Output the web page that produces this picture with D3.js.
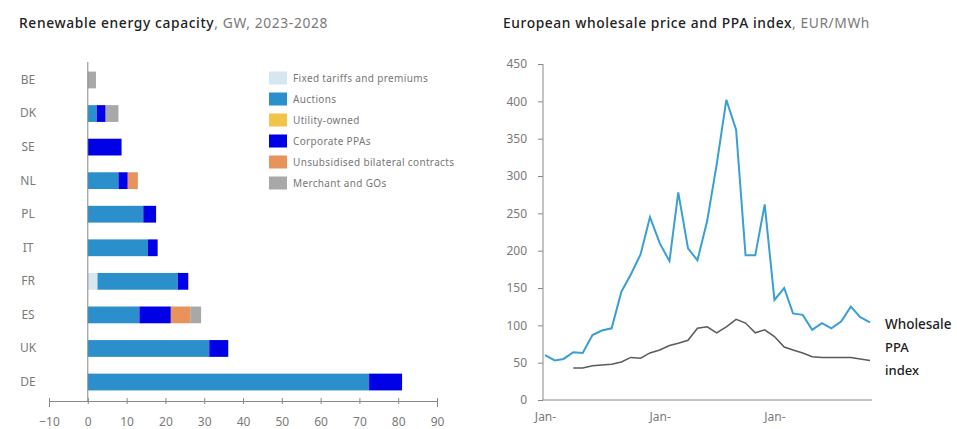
<!DOCTYPE html>
<html><head><meta charset="utf-8">
<script src="https://cdn.jsdelivr.net/npm/d3@7"></script>
<style>
html,body{margin:0;padding:0;background:#fff;}
svg{display:block;font-family:"Noto Sans",sans-serif;}
</style></head>
<body><svg id="c" width="957" height="429"></svg>
<script>
// ---- Left chart data: Renewable energy capacity, GW, 2023-2028
const countries = ["BE","DK","SE","NL","PL","IT","FR","ES","UK","DE"];
const seriesNames = ["Fixed tariffs and premiums","Auctions","Utility-owned","Corporate PPAs","Unsubsidised bilateral contracts","Merchant and GOs"];
const fixedTariffs   = [0,   0,   0,   0,   0,   0,   2.5, 0,    0,    0];
const auctions       = [0,   2.3, 0,   7.9, 14.3,15.5,20.7,13.3, 31.3, 72.5];
const utilityOwned   = [0,   0,   0,   0,   0,   0,   0,   0,    0,    0];
const corporatePPAs  = [0,   2.3, 8.7, 2.4, 3.3, 2.5, 2.7, 8.1,  4.9,  8.5];
const unsubsidised   = [0,   0,   0,   2.6, 0,   0,   0,   5.0,  0,    0];
const merchantGOs    = [2.1, 3.3, 0,   0,   0,   0,   0,   2.8,  0,    0];
const xTicksLeft = [-10,0,10,20,30,40,50,60,70,80,90];

// ---- Right chart data: European wholesale price and PPA index, EUR/MWh (monthly, Jan-21 .. Nov-23)
const wholesale = [60,53,55,64,63,87,93,96,145,168,195,245,210,186,278,203,187,240,315,402,362,194,194,262,134,150,116,114,94,103,96,105,125,111,104];
const ppaIndex  = [null,null,null,43,43,46,47,48,51,57,56,63,67,73,76,80,96,98,90,98,108,103,90,94,85,71,67,63,58,57,57,57,57,55,53];
const yTicksRight = [0,50,100,150,200,250,300,350,400,450];
const xTickLabelsRight = ["Jan-","Jan-","Jan-"];

const colors = ["#d6e7ef","#2b8fcb","#f2c447","#0000e6","#e8935c","#a8a8a8"];
const svg = d3.select("#c");
const gray = "#7a7a7a";

function fitWidth(sel, target){
  const n = sel.text().length;
  const w = sel.node().getComputedTextLength();
  sel.attr("letter-spacing", ((target - w) / n).toFixed(3));
}

// ===== Left chart =====
const xL = d3.scaleLinear().domain([-10,90]).range([49,437]);
const yL = d3.scaleBand().domain(countries).range([63.2,398.8]).paddingInner(0.5).paddingOuter(0.25);
const table = countries.map((c,i)=>({country:c,
  [seriesNames[0]]:fixedTariffs[i],[seriesNames[1]]:auctions[i],[seriesNames[2]]:utilityOwned[i],
  [seriesNames[3]]:corporatePPAs[i],[seriesNames[4]]:unsubsidised[i],[seriesNames[5]]:merchantGOs[i]}));
const stacked = d3.stack().keys(seriesNames)(table);

const t1 = svg.append("text").attr("x",19).attr("y",28).attr("font-size",13.8)
  .call(t=>{t.append("tspan").attr("fill","#222").attr("font-weight",500).text("Renewable energy capacity");
            t.append("tspan").attr("fill",gray).text(", GW, 2023-2028");});
fitWidth(t1, 309);

const gL = svg.append("g");
stacked.forEach((layer,k)=>{
  gL.append("g").attr("fill",colors[k]).selectAll("rect").data(layer).join("rect")
    .attr("x",d=>xL(d[0])).attr("width",d=>Math.max(0,xL(d[1])-xL(d[0])))
    .attr("y",d=>yL(d.data.country)).attr("height",yL.bandwidth());
});

// x axis
const axL = svg.append("g").attr("transform","translate(0,401)")
  .call(d3.axisBottom(xL).tickValues(xTicksLeft).tickSize(6).tickPadding(10).tickFormat(d3.format("d")));
axL.select(".domain").attr("stroke","#888");
axL.selectAll(".tick line").attr("y1",-3).attr("y2",3).attr("stroke","#888");
axL.selectAll(".tick text").attr("fill",gray).attr("font-size",12).attr("font-family","Noto Sans");
// y axis
const ayL = svg.append("g").attr("transform",`translate(${xL(0)},0)`)
  .call(d3.axisLeft(yL).tickSize(0));
ayL.select(".domain").attr("d",`M0,62V401`).attr("stroke","#888");
ayL.selectAll(".tick text").attr("x",28-xL(0)).attr("text-anchor","middle").attr("fill",gray)
  .attr("font-size",12).attr("font-family","Noto Sans");

// legend
const lg = svg.append("g");
seriesNames.forEach((s,i)=>{
  const cy = 78 + i*21;
  lg.append("rect").attr("x",269).attr("y",cy-6.5).attr("width",18).attr("height",13).attr("fill",colors[i]);
  lg.append("text").attr("x",293).attr("y",cy+3.5).attr("font-size",10).attr("letter-spacing",0.35)
    .attr("fill","#777").text(s);
});

// ===== Right chart =====
const months = d3.timeMonth.range(new Date(2021,0,1), new Date(2023,11,1));
const xR = d3.scaleTime().domain([months[0], months[months.length-1]]).range([545,870]);
const yR = d3.scaleLinear().domain([0,450]).range([400,64]);

const t2 = svg.append("text").attr("x",503).attr("y",28).attr("font-size",13.8)
  .call(t=>{t.append("tspan").attr("fill","#222").attr("font-weight",500).text("European wholesale price and PPA index");
            t.append("tspan").attr("fill",gray).text(", EUR/MWh");});
fitWidth(t2, 367);

const ayR = svg.append("g").attr("transform","translate(543,0)")
  .call(d3.axisLeft(yR).tickValues(yTicksRight).tickSize(5).tickPadding(11));
ayR.select(".domain").attr("d","M0,64V400").attr("stroke","#888");
ayR.selectAll(".tick line").attr("stroke","#888");
ayR.selectAll(".tick text").attr("fill",gray).attr("font-size",12).attr("font-family","Noto Sans");

const janDates = months.filter(d=>d.getMonth()===0);
const axR = svg.append("g").attr("transform","translate(0,400)")
  .call(d3.axisBottom(xR).tickValues(janDates).tickSize(0).tickPadding(12).tickFormat((d,i)=>xTickLabelsRight[i]));
axR.select(".domain").attr("d","M543,0H872").attr("stroke","#888");
axR.selectAll(".tick text").attr("fill",gray).attr("font-size",12).attr("font-family","Noto Sans");

const line = d3.line().defined(d=>d[1]!=null).x(d=>xR(d[0])).y(d=>yR(d[1]));
svg.append("path").attr("d",line(months.map((m,i)=>[m,ppaIndex[i]])))
  .attr("fill","none").attr("stroke","#5a5a5a").attr("stroke-width",1.5);
svg.append("path").attr("d",line(months.map((m,i)=>[m,wholesale[i]])))
  .attr("fill","none").attr("stroke","#3a9fd2").attr("stroke-width",2);

const endX = 885;
const lastW = yR(wholesale[wholesale.length-1]);
const lastP = yR(ppaIndex[ppaIndex.length-1]);
svg.append("text").attr("x",endX).attr("y",lastW+7).attr("font-size",13.5)
  .attr("fill","#222").attr("font-weight",500).text("Wholesale");
svg.append("text").attr("x",endX).attr("y",lastP-8).attr("font-size",13)
  .attr("fill","#222").attr("font-weight",500).text("PPA");
svg.append("text").attr("x",endX).attr("y",lastP+15).attr("font-size",13)
  .attr("fill","#222").attr("font-weight",500).text("index");
</script></body></html>
